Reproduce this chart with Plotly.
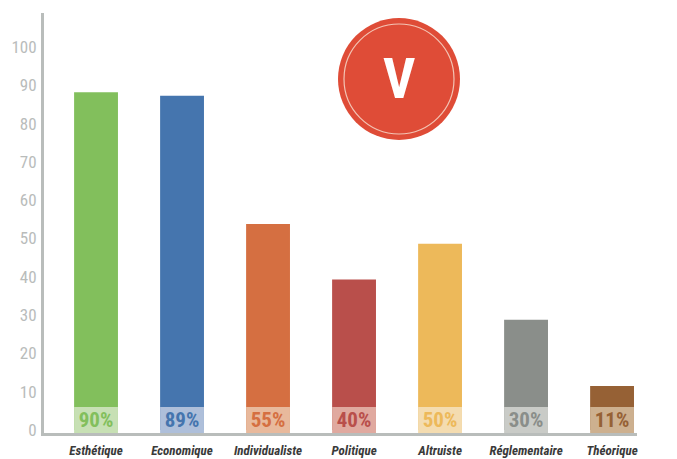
import plotly.graph_objects as go

categories = ["Esthétique", "Economique", "Individualiste", "Politique", "Altruiste", "Réglementaire", "Théorique"]
bar_values = [88.2, 87.3, 53.8, 39.3, 48.6, 28.8, 11.5]
percent_labels = ["90%", "89%", "55%", "40%", "50%", "30%", "11%"]
band_height = [6.8] * 7
colors = ["#82bf5c", "#4575ae", "#d56f41", "#b94f4b", "#edb95a", "#8a8e8a", "#966135"]
band_colors = ["#c7e0b4", "#aebfda", "#e8b99c", "#e0a99f", "#f4dcb0", "#c9cbc7", "#cdb08f"]
y_ticks = [0, 10, 20, 30, 40, 50, 60, 70, 80, 90, 100]
badge_text = "V"

W, H = 677, 459
L, R, T, B = 44, 40, 13, 26
NARROW = "Roboto Condensed, DejaVu Sans Condensed, Roboto, sans-serif"


def px(x):
    return (x - L) / (W - L - R)


def py(y):
    return 1 - (y - T) / (H - T - B)


fig = go.Figure()
fig.add_bar(x=categories, y=bar_values, marker=dict(color=colors, line_width=0), width=0.51, hoverinfo="skip")
fig.add_bar(
    x=categories, y=band_height, base=-0.8, width=0.51,
    marker=dict(color=band_colors, line_width=0),
    text=percent_labels, textposition="inside", insidetextanchor="middle", textangle=0,
    constraintext="none", cliponaxis=False,
    textfont=dict(family=NARROW, size=21, color=colors, weight="bold"),
    hoverinfo="skip",
)

fig.update_layout(
    width=W, height=H, autosize=False, barmode="overlay", showlegend=False,
    margin=dict(l=L, r=R, t=T, b=B, autoexpand=False), paper_bgcolor="white", plot_bgcolor="white",
    xaxis=dict(
        type="category", range=[-0.605, 6.29], showgrid=False, zeroline=False, automargin=False,
        showline=True, linecolor="#b9bdbb", linewidth=3, ticks="", tickangle=0,
        ticklabelstandoff=3,
        tickfont=dict(family=NARROW, size=13, color="#3a3a3a", weight="bold", style="italic"),
    ),
    yaxis=dict(
        range=[-0.8, 108.9], tickvals=y_ticks, showgrid=False, zeroline=False, automargin=False,
        showline=True, linecolor="#b9bdbb", linewidth=3, ticks="",
        ticklabelstandoff=1,
        tickfont=dict(family=NARROW, size=17, color="#b9bcbb"),
    ),
    shapes=[
        dict(type="circle", xref="paper", yref="paper", x0=px(399 - 61), x1=px(399 + 61),
             y0=py(79 + 61), y1=py(79 - 61), fillcolor="#df4c37", line_width=0),
        dict(type="circle", xref="paper", yref="paper", x0=px(399 - 55), x1=px(399 + 55),
             y0=py(79 + 55), y1=py(79 - 55), fillcolor="rgba(0,0,0,0)",
             line=dict(color="#f3c4b4", width=1.2)),
    ],
    annotations=[
        dict(text=badge_text, xref="paper", yref="paper", x=px(399), y=py(79), showarrow=False,
             xanchor="center", yanchor="middle",
             font=dict(family=NARROW, size=56, color="white", weight="bold")),
    ],
)
fig.write_html("out.html", post_script="document.body.style.margin='0';", config={"displayModeBar": False})
